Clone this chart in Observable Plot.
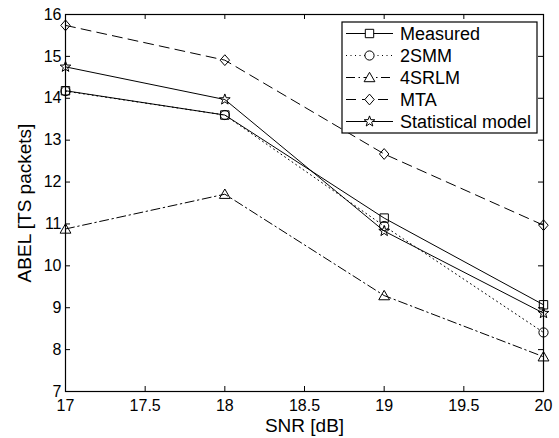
<!DOCTYPE html>
<html>
<head>
<meta charset="utf-8">
<script src="https://cdn.jsdelivr.net/npm/d3@7"></script>
<script src="https://cdn.jsdelivr.net/npm/@observablehq/plot@0.6"></script>
<style>
  html, body { margin: 0; padding: 0; background: #fff; }
  #chart svg { display: block; }
</style>
</head>
<body>
<div id="chart"></div>
<script>
// SNR sweep (dB) and the ABEL estimates of each method, in TS packets
const snr = [17, 18, 19, 20];
const measured    = [14.18, 13.60, 11.14, 9.07];
const twoSMM      = [14.17, 13.60, 10.95, 8.41];
const fourSRLM    = [10.88, 11.71, 9.29, 7.83];
const mta         = [15.74, 14.91, 12.67, 10.97];
const statistical = [14.75, 13.97, 10.83, 8.87];

const seriesNames = ["Measured", "2SMM", "4SRLM", "MTA", "Statistical model"];
const seriesValues = [measured, twoSMM, fourSRLM, mta, statistical];

const xTicks = [17, 17.5, 18, 18.5, 19, 19.5, 20];
const yTicks = [7, 8, 9, 10, 11, 12, 13, 14, 15, 16];

// Open marker shapes, drawn at a fixed pixel size
const squareSym = {draw(c) { c.rect(-4.2, -4.2, 8.4, 8.4); }};
const circleSym = {draw(c) { c.moveTo(4.6, 0); c.arc(0, 0, 4.6, 0, 2 * Math.PI); }};
const triangleSym = {draw(c) { c.moveTo(0, -5.2); c.lineTo(5.4, 4.2); c.lineTo(-5.4, 4.2); c.closePath(); }};
const diamondSym = {draw(c) { c.moveTo(0, -5.4); c.lineTo(4.7, 0); c.lineTo(0, 5.4); c.lineTo(-4.7, 0); c.closePath(); }};
const starSym = {draw(c) {
  const R = 5.6, r = 2.3;
  for (let i = 0; i < 10; i++) {
    const a = -Math.PI / 2 + i * Math.PI / 5;
    const rad = i % 2 ? r : R;
    const px = rad * Math.cos(a), py = rad * Math.sin(a);
    if (i === 0) c.moveTo(px, py); else c.lineTo(px, py);
  }
  c.closePath();
}};

const styles = {
  "Measured":          {symbol: squareSym,   dash: null},
  "2SMM":              {symbol: circleSym,   dash: "1,3.5"},
  "4SRLM":             {symbol: triangleSym, dash: "9,3.5,1.5,3.5"},
  "MTA":               {symbol: diamondSym,  dash: "10,6"},
  "Statistical model": {symbol: starSym,     dash: null}
};

const data = seriesNames.flatMap((name, k) =>
  snr.map((x, i) => ({series: name, snr: x, abel: seriesValues[k][i]})));

const W = 559, H = 438;
const mL = 65, mR = 16, mT = 14, mB = 47;
const innerW = W - mL - mR, innerH = H - mT - mB;
const tick = 5;
const fontFamily = "'Liberation Sans', Arial, Helvetica, sans-serif";

const marks = [];
for (const name of seriesNames) {
  const rows = data.filter(d => d.series === name);
  marks.push(Plot.line(rows, {x: "snr", y: "abel", stroke: "black", strokeWidth: 1,
    strokeDasharray: styles[name].dash}));
}
for (const name of seriesNames) {
  const rows = data.filter(d => d.series === name);
  marks.push(Plot.dot(rows, {x: "snr", y: "abel", symbol: () => styles[name].symbol,
    stroke: "black", strokeWidth: 1, fill: "none", r: 4}));
}

const chart = Plot.plot({
  width: W, height: H,
  marginLeft: mL, marginRight: mR, marginTop: mT, marginBottom: mB,
  style: {fontFamily, fontSize: "16px", color: "black", background: "white"},
  x: {domain: [17, 20]},
  y: {domain: [7, 16]},
  symbol: {type: "identity"},
  marks: [
    // inward ticks on all four sides of the box
    Plot.tickX(xTicks, {x: d => d, insetTop: innerH - tick, stroke: "black"}),
    Plot.tickX(xTicks, {x: d => d, insetBottom: innerH - tick, stroke: "black"}),
    Plot.tickY(yTicks, {y: d => d, insetRight: innerW - tick, stroke: "black"}),
    Plot.tickY(yTicks, {y: d => d, insetLeft: innerW - tick, stroke: "black"}),
    Plot.axisX(xTicks, {tickSize: 0, tickPadding: 8, label: null, fontSize: 16, tickFormat: d => String(d)}),
    Plot.axisY(yTicks, {tickSize: 0, tickPadding: 4, label: null, fontSize: 16, tickFormat: d => String(d)}),
    ...marks,
    Plot.frame({stroke: "black", strokeWidth: 1.2}),
    Plot.text(["SNR [dB]"], {frameAnchor: "bottom", textAnchor: "middle", lineAnchor: "middle",
      dy: 34, fontSize: 19, fill: "black"}),
    Plot.text(["ABEL [TS packets]"], {frameAnchor: "left", textAnchor: "middle", lineAnchor: "middle",
      dx: -41, rotate: -90, fontSize: 19, fill: "black"})
  ]
});

// Legend box in the upper-right corner of the axes
const svg = d3.select(chart);
const lw = 195, lh = 111;
const lx = mL + innerW - 6 - lw, ly = mT + 8;
const lg = svg.append("g")
  .attr("font-family", fontFamily).attr("font-size", 18).attr("text-anchor", "start");
lg.append("rect").attr("x", lx).attr("y", ly).attr("width", lw).attr("height", lh)
  .attr("fill", "white").attr("stroke", "black").attr("stroke-width", 1.2);
seriesNames.forEach((name, i) => {
  const cy = ly + 11.5 + i * 22;
  lg.append("line").attr("x1", lx + 4).attr("x2", lx + 51).attr("y1", cy).attr("y2", cy)
    .attr("stroke", "black").attr("stroke-width", 1)
    .attr("stroke-dasharray", styles[name].dash);
  lg.append("path").attr("d", d3.symbol(styles[name].symbol)())
    .attr("transform", `translate(${lx + 27.5},${cy})`)
    .attr("fill", "white").attr("stroke", "black");
  lg.append("text").attr("x", lx + 58).attr("y", cy).attr("dy", "0.35em")
    .attr("fill", "black").text(name);
});

document.getElementById("chart").appendChild(chart);
</script>
</body>
</html>
